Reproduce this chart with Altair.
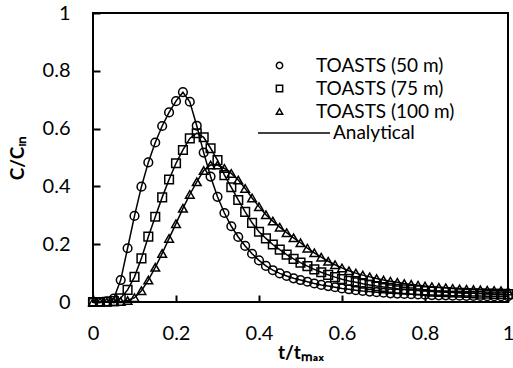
import altair as alt
import pandas as pd

t_values = [0.0, 0.0167, 0.0333, 0.05, 0.0667, 0.0833, 0.1, 0.1167, 0.1333, 0.15,
            0.1667, 0.1833, 0.2, 0.2167, 0.2333, 0.25, 0.2667, 0.2833, 0.3, 0.3167,
            0.3333, 0.35, 0.3667, 0.3833, 0.4, 0.4167, 0.4333, 0.45, 0.4667, 0.4833,
            0.5, 0.5167, 0.5333, 0.55, 0.5667, 0.5833, 0.6, 0.6167, 0.6333, 0.65,
            0.6667, 0.6833, 0.7, 0.7167, 0.7333, 0.75, 0.7667, 0.7833, 0.8, 0.8167,
            0.8333, 0.85, 0.8667, 0.8833, 0.9, 0.9167, 0.9333, 0.95, 0.9667, 0.9833, 1.0]

c_50 = [0.000, 0.000, 0.002, 0.012, 0.076, 0.186, 0.298, 0.399, 0.483, 0.552,
        0.609, 0.656, 0.695, 0.726, 0.693, 0.610, 0.517, 0.434, 0.364, 0.308,
        0.262, 0.225, 0.194, 0.167, 0.144, 0.125, 0.110, 0.099, 0.090, 0.082,
        0.076, 0.070, 0.064, 0.059, 0.055, 0.051, 0.047, 0.044, 0.041, 0.038,
        0.036, 0.034, 0.032, 0.030, 0.029, 0.028, 0.027, 0.026, 0.025, 0.024,
        0.023, 0.023, 0.022, 0.022, 0.021, 0.021, 0.021, 0.020, 0.020, 0.020, 0.020]

c_75 = [0.000, 0.000, 0.001, 0.003, 0.013, 0.042, 0.087, 0.151, 0.226, 0.295,
        0.362, 0.424, 0.480, 0.526, 0.566, 0.584, 0.570, 0.532, 0.491, 0.439,
        0.397, 0.353, 0.312, 0.274, 0.243, 0.220, 0.199, 0.181, 0.164, 0.149,
        0.136, 0.124, 0.113, 0.103, 0.094, 0.086, 0.079, 0.073, 0.068, 0.063,
        0.059, 0.055, 0.052, 0.049, 0.046, 0.044, 0.042, 0.040, 0.038, 0.036,
        0.035, 0.034, 0.033, 0.032, 0.031, 0.030, 0.029, 0.029, 0.028, 0.028, 0.027]

c_100 = [0.000, 0.000, 0.000, 0.001, 0.002, 0.005, 0.015, 0.039, 0.076, 0.120,
         0.168, 0.220, 0.271, 0.324, 0.372, 0.416, 0.455, 0.474, 0.474, 0.462,
         0.445, 0.422, 0.393, 0.360, 0.330, 0.302, 0.280, 0.259, 0.240, 0.222,
         0.205, 0.186, 0.170, 0.155, 0.141, 0.129, 0.118, 0.108, 0.100, 0.093,
         0.087, 0.081, 0.076, 0.072, 0.068, 0.064, 0.061, 0.058, 0.055, 0.053,
         0.051, 0.049, 0.047, 0.045, 0.044, 0.043, 0.042, 0.041, 0.040, 0.039, 0.038]

series_names = ["TOASTS (50 m)", "TOASTS (75 m)", "TOASTS (100 m)"]
series_shapes = ["circle", "square", "triangle-up"]
tick_values = [0, 0.2, 0.4, 0.6, 0.8, 1]

rows = []
for name, vals in zip(series_names, [c_50, c_75, c_100]):
    for t, c in zip(t_values, vals):
        rows.append({"t": t, "c": c, "series": name, "kind": "Analytical"})
df = pd.DataFrame(rows)

FONT = "Lato"

x_enc = alt.X("t:Q", scale=alt.Scale(domain=[0, 1], nice=False),
              axis=alt.Axis(values=tick_values, format="~g", title="t/tₘₐₓ",
                            offset=-7, tickSize=7, tickWidth=2, tickColor="black",
                            domain=False, grid=False, labelFlush=False,
                            labelPadding=21, labelFontSize=20, labelFont=FONT,
                            labelColor="black", titleFont=FONT, titleFontSize=19,
                            titleFontWeight="bold", titleColor="black", titlePadding=0))
y_enc = alt.Y("c:Q", scale=alt.Scale(domain=[0, 1], nice=False),
              axis=alt.Axis(values=tick_values, format="~g", title="C/Cᵢₙ",
                            offset=-7, tickSize=7, tickWidth=2, tickColor="black",
                            domain=False, grid=False, labelFlush=False,
                            labelPadding=23, labelFontSize=20, labelFont=FONT,
                            labelColor="black", titleFont=FONT, titleFontSize=19,
                            titleFontWeight="bold", titleColor="black", titlePadding=15))

lines = alt.Chart(df).mark_line(strokeWidth=1.5).encode(
    x=x_enc, y=y_enc, detail="series:N",
    color=alt.Color("kind:N", scale=alt.Scale(range=["black"]),
                    legend=alt.Legend(title=None, orient="none", legendX=164, legendY=83,
                                      symbolType="stroke", symbolSize=5184,
                                      symbolStrokeWidth=1.5, labelOffset=2,
                                      labelFontSize=19, labelFont=FONT, labelColor="black")),
)

points = alt.Chart(df).mark_point(filled=False, color="black", strokeWidth=1.5, size=75, opacity=1).encode(
    x=x_enc, y=y_enc,
    shape=alt.Shape("series:N", scale=alt.Scale(domain=series_names, range=series_shapes),
                    legend=alt.Legend(title=None, orient="none", legendX=177, legendY=43,
                                      symbolSize=40, symbolStrokeWidth=1.5, labelOffset=27,
                                      labelFontSize=19, labelFont=FONT, labelColor="black",
                                      rowPadding=3)),
)

chart = alt.layer(lines, points).properties(
    width=415, height=289,
    padding={"left": 93, "top": 13, "right": 5, "bottom": 66},
    autosize="none",
    background="white",
).configure_view(stroke="black", strokeWidth=2)

chart.save("out.html", embed_options={"renderer": "svg", "actions": False})
